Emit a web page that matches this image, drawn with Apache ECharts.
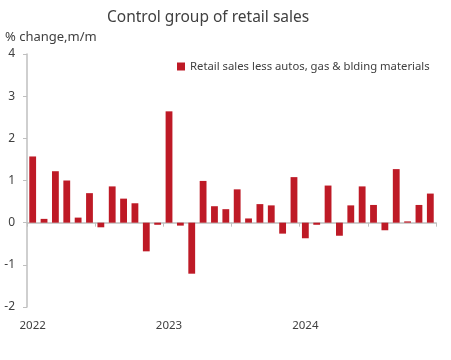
<!DOCTYPE html>
<html><head><meta charset="utf-8">
<script src="https://cdn.jsdelivr.net/npm/echarts@6/dist/echarts.min.js"></script>
<style>html,body{margin:0;padding:0;background:#fff}#c{width:451px;height:360px}</style>
</head><body><div id="c"></div>
<script>
const categories = [
 '2022-01','2022-02','2022-03','2022-04','2022-05','2022-06','2022-07','2022-08','2022-09','2022-10','2022-11','2022-12',
 '2023-01','2023-02','2023-03','2023-04','2023-05','2023-06','2023-07','2023-08','2023-09','2023-10','2023-11','2023-12',
 '2024-01','2024-02','2024-03','2024-04','2024-05','2024-06','2024-07','2024-08','2024-09','2024-10','2024-11','2024-12'];
const controlGroup = [
 1.57, 0.09, 1.22, 1.00, 0.12, 0.70, -0.11, 0.86, 0.57, 0.46, -0.68, -0.05,
 2.64, -0.07, -1.21, 0.99, 0.39, 0.32, 0.79, 0.10, 0.44, 0.41, -0.26, 1.08,
 -0.37, -0.05, 0.88, -0.31, 0.41, 0.86, 0.42, -0.18, 1.27, 0.03, 0.42, 0.69];
const yTicks = [-2, -1, 0, 1, 2, 3, 4];
const seriesName = 'Retail sales less autos, gas & blding materials';
const FONT = 'Noto Sans';
const chart = echarts.init(document.getElementById('c'));
chart.setOption({
  animation: false,
  textStyle: { fontFamily: FONT },
  title: [
    { text: 'Control group of retail sales', left: 107, top: 10, padding: 0,
      textStyle: { fontFamily: FONT, fontSize: 15.5, fontWeight: 'normal', color: '#404040' } },
    { text: '% change,m/m', left: 5, top: 31, padding: 0,
      textStyle: { fontFamily: FONT, fontSize: 13, fontWeight: 'normal', color: '#404040' } }
  ],
  legend: {
    left: 172, top: 56, itemWidth: 8, itemHeight: 8, icon: 'rect', itemGap: 4,
    textStyle: { fontFamily: FONT, fontSize: 11.3, color: '#404040' },
    data: [seriesName]
  },
  grid: { left: 27, right: 15, top: 54, bottom: 53, containLabel: false, outerBoundsMode: 'none' },
  xAxis: [
    { type: 'category', data: categories, position: 'bottom',
      axisLine: { onZero: true, lineStyle: { color: '#bfbfbf', width: 1.5 } },
      axisTick: { show: true, interval: 5, length: 4, lineStyle: { color: '#bfbfbf' } },
      axisLabel: { show: false } },
    { type: 'category', data: categories, position: 'bottom', gridIndex: 0,
      axisLine: { show: false, onZero: false }, axisTick: { show: false },
      axisLabel: { interval: 11, margin: 13, fontFamily: FONT, fontSize: 11.5, color: '#404040',
        formatter: v => v.slice(0, 4) } }
  ],
  yAxis: {
    type: 'value', min: yTicks[0], max: yTicks[yTicks.length - 1], interval: 1,
    splitLine: { show: false },
    axisLine: { show: true, lineStyle: { color: '#bfbfbf', width: 1.5 } },
    axisTick: { show: true, length: 4, lineStyle: { color: '#bfbfbf' } },
    axisLabel: { margin: 12, fontFamily: FONT, fontSize: 12, color: '#404040' }
  },
  series: [{
    name: seriesName, type: 'bar', data: controlGroup, xAxisIndex: 0,
    barCategoryGap: '40%', itemStyle: { color: '#be1a26' }
  }]
});
</script></body></html>
